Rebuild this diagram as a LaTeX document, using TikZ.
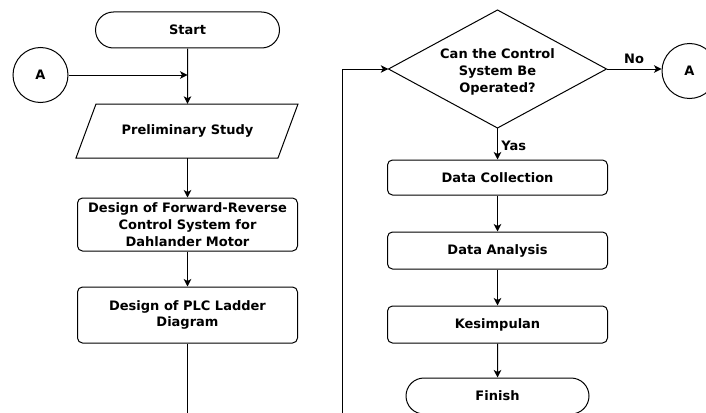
\documentclass[tikz,border=0pt]{standalone}
\usepackage{fontspec}
\setmainfont{DejaVu Sans}
\usetikzlibrary{shapes.misc,arrows.meta}
\begin{document}
\begin{tikzpicture}[x=1pt,y=-1pt,
  every node/.style={font=\bfseries\fontsize{13}{16.8}\selectfont, align=center},
  line/.style={draw, line width=1pt},
  arr/.style={line, -{Stealth[length=7.5pt,width=7.5pt,inset=2pt]}},
  proc/.style={draw, line width=1pt, rounded corners=5pt, minimum width=220pt, inner sep=0pt},
  term/.style={draw, line width=1pt, rounded rectangle, minimum width=184pt, minimum height=36pt, inner sep=0pt},
  conn/.style={draw, line width=1pt, circle, minimum size=55pt, inner sep=0pt},
  lbl/.style={draw=none}
]
\useasboundingbox (0,0) rectangle (706,412);
\clip (0,0) rectangle (706,412);
% left column
\node[term] (start) at (187.5,30) {Start};
\node[conn] (A1) at (40.5,75) {A};
\coordinate (j) at (187.5,75);
\draw[line width=1pt] (96,104) -- (298,104) -- (278,158) -- (76,158) -- cycle;
\node (prelim) [minimum width=170pt, minimum height=54pt, inner sep=0pt] at (187.5,131) {Preliminary Study};
\node[proc, minimum height=53pt] (design) at (187.5,224.5) {Design of Forward-Reverse\\Control System for\\Dahlander Motor};
\node[proc, minimum height=56pt] (plc) at (187.5,315) {Design of PLC Ladder\\Diagram};
\coordinate (lb) at (187.5,420);
\draw[arr] (start) -- (prelim);
\draw[arr] (A1) -- (j);
\draw[arr] (prelim) -- (design);
\draw[arr] (design) -- (plc);
\draw[line] (plc) -- (lb);
% right column
\draw[line width=1pt] (497.5,10) -- (606.5,69) -- (497.5,128) -- (388.5,69) -- cycle;
\node (dec) [minimum width=218pt, minimum height=118pt, inner sep=0pt] at (497.5,69) {};
\node at (497.5,72) {Can the Control\\System Be\\Operated?};
\node[conn] (A2) at (689.5,71) {A};
\node[proc, minimum height=35pt] (dc) at (497.5,177.5) {Data Collection};
\node[proc, minimum height=37pt] (da) at (497.5,250.5) {Data Analysis};
\node[proc, minimum height=37pt] (kes) at (497.5,324.5) {Kesimpulan};
\node[term, minimum width=183pt] (fin) at (497.5,396) {Finish};
\coordinate (rb) at (342,420);
\draw[arr] (rb) |- (dec.west);
\draw[arr] (dec.east) -- node[lbl, above=1pt] {No} (dec.east -| A2.west);
\draw[arr] (dec.south) -- node[lbl, right=0pt, pos=0.55] {Yas} (dc);
\draw[arr] (dc) -- (da);
\draw[arr] (da) -- (kes);
\draw[arr] (kes) -- (fin);
\end{tikzpicture}
\end{document}
